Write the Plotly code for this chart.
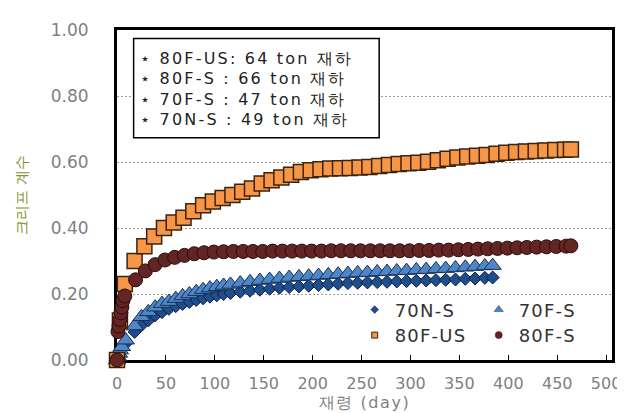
import plotly.graph_objects as go

# ---------------- data ----------------
days_70 = [0, 1, 2, 3, 5, 9, 18, 25, 32, 39, 46, 53, 60, 67, 74, 81, 88, 95, 102, 109, 116,
           126, 136, 146, 156, 166, 176, 186, 196, 206, 216, 226, 236, 246, 256, 266, 276,
           286, 296, 306, 316, 326, 336, 346, 356, 366, 376, 384]
v_70N_S = [0.0, 0.008, 0.015, 0.025, 0.035, 0.05, 0.085, 0.105, 0.12, 0.135, 0.145, 0.155,
           0.163, 0.17, 0.176, 0.182, 0.187, 0.192, 0.196, 0.2, 0.203,
           0.207, 0.21, 0.213, 0.216, 0.219, 0.221, 0.223, 0.225, 0.227, 0.229, 0.231, 0.233,
           0.234, 0.235, 0.236, 0.237, 0.238, 0.239, 0.24, 0.241, 0.242, 0.243, 0.244, 0.246,
           0.247, 0.249, 0.25]
v_70F_S = [0.0, 0.01, 0.02, 0.03, 0.04, 0.06, 0.103, 0.131, 0.146, 0.16, 0.171, 0.177,
           0.186, 0.194, 0.2, 0.207, 0.213, 0.218, 0.222, 0.226, 0.229,
           0.233, 0.237, 0.241, 0.244, 0.247, 0.25, 0.252, 0.254, 0.256, 0.258, 0.26, 0.262,
           0.264, 0.265, 0.267, 0.268, 0.27, 0.271, 0.273, 0.274, 0.276, 0.277, 0.279, 0.281,
           0.283, 0.285, 0.286]

days_80US = [0, 3, 8, 18, 28, 38, 48, 58, 68, 78, 88, 98, 108, 118, 128, 138, 148, 158, 168,
             178, 188, 198, 208, 218, 228, 238, 248, 258, 268, 278, 288, 298, 308, 318, 328,
             338, 348, 358, 368, 378, 388, 398, 408, 418, 428, 438, 448, 458, 464]
v_80F_US = [0.0, 0.12, 0.23, 0.30, 0.345, 0.374, 0.40, 0.417, 0.431, 0.451, 0.469, 0.48,
            0.491, 0.50, 0.51, 0.52, 0.535, 0.545, 0.553, 0.561, 0.570, 0.575, 0.578, 0.580,
            0.581, 0.582, 0.583, 0.585, 0.588, 0.591, 0.594, 0.596, 0.598, 0.601, 0.605,
            0.610, 0.614, 0.617, 0.619, 0.621, 0.625, 0.628, 0.630, 0.632, 0.633, 0.635,
            0.636, 0.637, 0.638]

days_80S = [0, 1, 2, 3, 4, 5, 6, 8, 19, 29, 39, 49, 59, 69, 79, 89, 99, 109, 119, 129, 139,
            149, 159, 169, 179, 189, 199, 209, 219, 229, 239, 249, 259, 269, 279, 289, 299,
            309, 319, 329, 339, 349, 359, 369, 379, 389, 399, 409, 419, 429, 439, 449, 459, 464]
v_80F_S = [0.0, 0.086, 0.103, 0.123, 0.143, 0.16, 0.18, 0.194, 0.243, 0.27, 0.289, 0.303,
           0.311, 0.317, 0.322, 0.325, 0.327, 0.328, 0.329, 0.329, 0.329, 0.329, 0.33, 0.33,
           0.33, 0.33, 0.33, 0.33, 0.331, 0.331, 0.331, 0.331, 0.331, 0.331, 0.331, 0.331,
           0.331, 0.332, 0.332, 0.333, 0.333, 0.334, 0.335, 0.336, 0.337, 0.338, 0.339,
           0.34, 0.341, 0.342, 0.343, 0.344, 0.345, 0.346]

series_names = ["70N-S", "70F-S", "80F-US", "80F-S"]
note_lines = ["⋆ 80F-US: 64 ton 재하", "⋆ 80F-S : 66 ton 재하",
              "⋆ 70F-S : 47 ton 재하", "⋆ 70N-S : 49 ton 재하"]
x_ticks = [0, 50, 100, 150, 200, 250, 300, 350, 400, 450, 500]
y_ticks = [0.0, 0.2, 0.4, 0.6, 0.8, 1.0]
x_title = "재령 (day)"
y_title = "크리프 계수"

# ---------------- styles ----------------
W, H = 625, 413
L, R, T, B = 106, 13, 14, 50
FONT = "DejaVu Sans"
GRAY = "#7f7f7f"

def spaced(s, px):
    return f'<span style="letter-spacing:{px}px">{s}</span>'

styles = {
    "70N-S": dict(symbol="diamond", size=10, color="#1f4e8c", line=dict(color="#0b1f3f", width=1)),
    "70F-S": dict(symbol="triangle-up", size=15, color="#4f86c6", line=dict(color="#17305a", width=1)),
    "80F-US": dict(symbol="square", size=15, color="#f79646", line=dict(color="#3a2410", width=1.5)),
    "80F-S": dict(symbol="circle", size=14, color="#632523", line=dict(color="#2a0d0c", width=1)),
}
legend_styles = {
    "70N-S": dict(symbol="diamond", size=6, color="#1f4e8c", line=dict(color="#0b1f3f", width=0.5)),
    "70F-S": dict(symbol="triangle-up", size=8, color="#4f86c6", line=dict(color="#17305a", width=0.5)),
    "80F-US": dict(symbol="square", size=6, color="#f79646", line=dict(color="#3a2410", width=1)),
    "80F-S": dict(symbol="circle", size=7, color="#632523", line=dict(color="#2a0d0c", width=0.5)),
}
data = {
    "70N-S": (days_70, v_70N_S),
    "70F-S": (days_70, v_70F_S),
    "80F-US": (days_80US, v_80F_US),
    "80F-S": (days_80S, v_80F_S),
}
legend_of = {"70N-S": "legend", "70F-S": "legend", "80F-US": "legend2", "80F-S": "legend2"}

fig = go.Figure()
for name in series_names:
    xs, ys = data[name]
    fig.add_trace(go.Scatter(x=xs, y=ys, mode="markers", name=name, showlegend=False,
                             marker=styles[name], cliponaxis=False))
for name in series_names:
    fig.add_trace(go.Scatter(x=[None], y=[None], mode="markers", name=spaced(name, 1.2),
                             legend=legend_of[name], marker=legend_styles[name]))

pw = W - L - R
ph = H - T - B
def px_x(p):
    return (p - L) / pw
def px_y(p):
    return (H - B - p) / ph

# note box
fig.add_shape(type="rect", xref="paper", yref="paper",
              x0=px_x(123), x1=px_x(374), y0=px_y(128), y1=px_y(23),
              line=dict(color="black", width=1.5), fillcolor="white", layer="above")
for i, line in enumerate(note_lines):
    fig.add_annotation(xref="paper", yref="paper", x=px_x(127), y=px_y(44 + i * 21.7),
                       xanchor="left", yanchor="middle", text=spaced(line, 2.2), showarrow=False,
                       font=dict(family=FONT, size=16, color="#222222"))

legend_common = dict(orientation="h", xanchor="left", yanchor="middle",
                     font=dict(family=FONT, size=18, color="#333333"),
                     bgcolor="rgba(0,0,0,0)", entrywidth=79, entrywidthmode="pixels",
                     itemwidth=30, borderwidth=0)
fig.update_layout(
    width=W, height=H,
    margin=dict(l=L, r=R, t=T, b=B),
    paper_bgcolor="white", plot_bgcolor="white",
    showlegend=True,
    legend=dict(x=px_x(349), y=px_y(310), **legend_common),
    legend2=dict(x=px_x(349), y=px_y(337), **legend_common),
    xaxis=dict(range=[0, 506], tickvals=x_ticks, ticktext=[str(v) for v in x_ticks],
               showline=True, linecolor="black", linewidth=3, mirror=True,
               ticks="inside", ticklen=5, tickcolor="black", tickwidth=1,
               showgrid=False, zeroline=False, layer="below traces",
               tickfont=dict(family=FONT, size=16, color=GRAY), ticklabelstandoff=7,
               title=dict(text=spaced(x_title, 1.6), font=dict(family=FONT, size=16, color=GRAY), standoff=5)),
    yaxis=dict(range=[0, 1], tickvals=y_ticks, ticktext=[f"{v:.2f}" for v in y_ticks],
               showline=True, linecolor="black", linewidth=3, mirror=True,
               ticks="", showgrid=True, gridcolor="#9a9a9a", gridwidth=1, griddash="2px,2px",
               zeroline=False, layer="below traces",
               tickfont=dict(family=FONT, size=17, color=GRAY), ticklabelstandoff=22,
               title=dict(text=y_title, font=dict(family=FONT, size=15, color="#7f9438"), standoff=20)),
)
fig.write_html("out.html")
